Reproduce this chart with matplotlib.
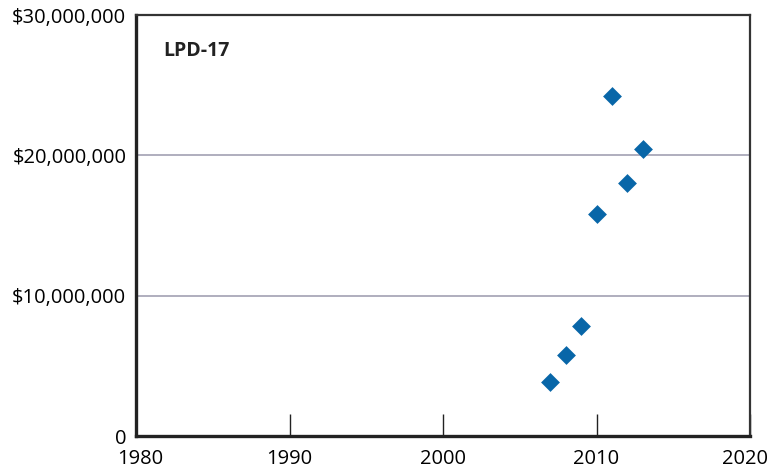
import matplotlib.pyplot as plt
from matplotlib.ticker import FuncFormatter
from matplotlib.transforms import ScaledTranslation

plt.rcParams['font.family'] = ['Open Sans', 'DejaVu Sans']

# LPD-17 data
years = [2007, 2008, 2009, 2010, 2011, 2012, 2013]
costs = [3.87e6, 5.8e6, 7.85e6, 15.8e6, 24.2e6, 18.05e6, 20.45e6]

fig = plt.figure(figsize=(7.69, 4.70), dpi=100)
ax = fig.add_axes([136 / 769, 1 - 436 / 470, 614 / 769, 421 / 470])

ax.scatter(years, costs, marker='D', s=92, color='#0866a8', zorder=3, linewidths=0)

ax.set_xlim(1980, 2020)
ax.set_ylim(0, 30e6)
ax.set_xticks([1980, 1990, 2000, 2010, 2020])
ax.set_yticks([0, 10e6, 20e6, 30e6])
ax.yaxis.set_major_formatter(FuncFormatter(lambda v, p: '0' if v == 0 else f'${v:,.0f}'))

for y in [10e6, 20e6]:
    ax.axhline(y, color='#9a98ac', lw=1.1, zorder=1)

ax.tick_params(axis='x', direction='in', length=16, width=1, color='#222222',
               labelsize=14.5, pad=9)
ax.tick_params(axis='y', length=0, labelsize=14.5, pad=7)

# nudge the end labels inwards a little, like the original
labels = ax.get_xticklabels()
labels[0].set_transform(labels[0].get_transform() + ScaledTranslation(4 / 100, 0, fig.dpi_scale_trans))
labels[-1].set_transform(labels[-1].get_transform() + ScaledTranslation(-5 / 100, 0, fig.dpi_scale_trans))

for side in ['left', 'bottom']:
    ax.spines[side].set_linewidth(2.4)
    ax.spines[side].set_color('#222222')
for side in ['top', 'right']:
    ax.spines[side].set_linewidth(1.6)
    ax.spines[side].set_color('#333333')

ax.text(0.045, 0.915, 'LPD-17', transform=ax.transAxes, fontsize=14,
        fontweight='bold', color='#222222', va='center')

fig.savefig('out.png', dpi=100)
